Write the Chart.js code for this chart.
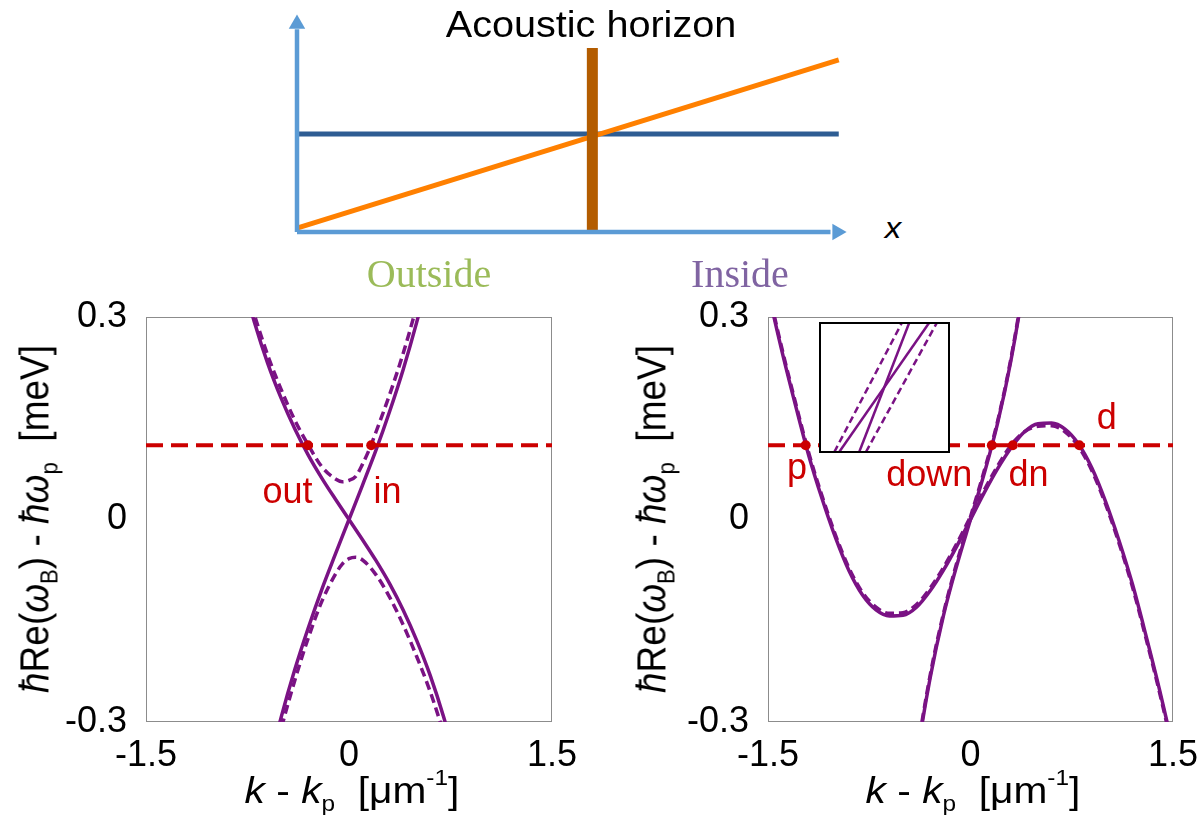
<!DOCTYPE html>
<html>
<head>
<meta charset="utf-8">
<title>Acoustic horizon</title>
<script src="https://cdn.jsdelivr.net/npm/chart.js@4.4.1/dist/chart.umd.min.js"></script>
<style>
    html, body { margin: 0; padding: 0; background: #fff; }
    #page { position: relative; width: 1201px; height: 815px; overflow: hidden; font-family: "Liberation Sans", Arial, sans-serif; color: #000; }
    canvas { position: absolute; }
    #inset { background: #fff; }
    .label { position: absolute; white-space: nowrap; line-height: 1; transform: translate(-50%, -50%) scaleX(1.1); }
    .ytitle { transform: translate(-50%, -50%) scaleX(1.1) rotate(-90deg); }
    .serif { font-family: "Liberation Serif", "Times New Roman", serif; transform: translate(-50%, -50%); }
    .it { font-style: italic; }
    sub, sup { font-size: 60%; line-height: 0; position: relative; vertical-align: baseline; }
    sub { top: 0.35em; }
    sup { top: -0.8em; }
</style>
</head>
<body>
<div id="page">
    <canvas id="scheme" width="600" height="250" style="left:280px; top:0px;"></canvas>
    <canvas id="outside" width="600" height="525" style="left:0px; top:290px;"></canvas>
    <canvas id="inside" width="601" height="525" style="left:600px; top:290px;"></canvas>
    <canvas id="inset" width="131" height="131" style="left:819px; top:322px;"></canvas>

    <div class="label" style="left:591px; top:25px; font-size:36px;">Acoustic horizon</div>
    <div class="label it" style="left:893px; top:228px; font-size:30px;">x</div>
    <div class="label serif" style="left:429px; top:274px; font-size:40px; color:#9bbb59;">Outside</div>
    <div class="label serif" style="left:740px; top:274px; font-size:40px; color:#8064a2;">Inside</div>

    <div class="label ytitle" style="left:35px; top:519px; font-size:37px;"><span class="it">ħ</span>Re(<span class="it">ω</span><sub>B</sub>) - <span class="it">ħω</span><sub>p</sub>&nbsp; [meV]</div>
    <div class="label" style="left:352px; top:790px; font-size:37px;"><span class="it">k</span> - <span class="it">k</span><sub>p</sub>&nbsp; [μm<sup>-1</sup>]</div>
    <div class="label ytitle" style="left:652px; top:519px; font-size:37px;"><span class="it">ħ</span>Re(<span class="it">ω</span><sub>B</sub>) - <span class="it">ħω</span><sub>p</sub>&nbsp; [meV]</div>
    <div class="label" style="left:973px; top:790px; font-size:37px;"><span class="it">k</span> - <span class="it">k</span><sub>p</sub>&nbsp; [μm<sup>-1</sup>]</div>
</div>

<script>
// Top schematic (arbitrary units, 0..100 on both axes)
const schemeX = [0, 98.5];
const soundLine = [45, 45];
const flowLine = [1.8, 79];
const horizonX = [53.7, 53.7];
const horizonY = [0, 84.4];
const axisShaftX = [0, 97];
const axisShaftY = [0, 93];
const arrowHeadX = [98.2, 0];
const arrowHeadY = [0, 95.4];

// Shared ticks of the two dispersion panels
const kTicks = [-1.5, 0, 1.5];
const kTickLabels = ['-1.5', '0', '1.5'];
const eTicks = [-0.3, 0, 0.3];
const eTickLabels = ['-0.3', '0', '0.3'];
const probeEnergy = 0.11;

// Outside panel
const kOutA = [-0.8, -0.7, -0.6, -0.5, -0.4, -0.3, -0.2, -0.1, 0, 0.1, 0.2, 0.3, 0.4, 0.5, 0.6, 0.7, 0.8];
const outSolidA = [0.366, 0.293, 0.231, 0.179, 0.134, 0.095, 0.061, 0.030, 0, -0.030, -0.061, -0.095, -0.134, -0.179, -0.231, -0.293, -0.366];
const kOutB = [-0.6, -0.5, -0.4, -0.3, -0.2, -0.1, 0, 0.1, 0.2, 0.3, 0.4, 0.5, 0.6];
const outSolidB = [-0.372, -0.292, -0.222, -0.160, -0.103, -0.051, 0, 0.051, 0.103, 0.160, 0.222, 0.292, 0.372];
const kOutUpper = [-0.75, -0.7, -0.6, -0.5, -0.4, -0.3, -0.2, -0.1, -0.05, 0, 0.05, 0.1, 0.15, 0.2, 0.3, 0.4, 0.5, 0.55];
const outDashUpper = [0.339, 0.304, 0.243, 0.192, 0.147, 0.110, 0.078, 0.060, 0.056, 0.058, 0.064, 0.082, 0.104, 0.130, 0.185, 0.246, 0.316, 0.355];
const kOutLower = [-0.55, -0.5, -0.4, -0.3, -0.2, -0.1, -0.05, 0, 0.05, 0.1, 0.2, 0.3, 0.4, 0.5, 0.6, 0.7, 0.75];
const outDashLower = [-0.348, -0.309, -0.238, -0.175, -0.121, -0.081, -0.066, -0.058, -0.056, -0.060, -0.082, -0.115, -0.156, -0.203, -0.255, -0.317, -0.352];
const outDotsK = [-0.303, 0.164];
const outLabels = ['out', 'in'];
const outLabelK = [-0.454, 0.284];
const outLabelE = [0.039, 0.039];

// Inside panel
const kInC = [-1.6, -1.5, -1.4, -1.3, -1.2, -1.1, -1.0, -0.9, -0.8, -0.7, -0.6, -0.5, -0.4, -0.3, -0.2, -0.1, 0,
              0.1, 0.2, 0.3, 0.4, 0.5, 0.6, 0.7, 0.8, 0.9, 1.0, 1.1, 1.2, 1.3, 1.4, 1.5, 1.6];
const inSolidC = [0.44, 0.34, 0.252, 0.172, 0.096, 0.031, -0.027, -0.076, -0.112, -0.134, -0.143, -0.142, -0.130, -0.106, -0.075, -0.039, 0,
                  0.039, 0.075, 0.106, 0.130, 0.142, 0.143, 0.134, 0.112, 0.076, 0.027, -0.031, -0.096, -0.172, -0.252, -0.34, -0.44];
const inDashC = [0.444, 0.344, 0.256, 0.176, 0.100, 0.035, -0.023, -0.072, -0.108, -0.130, -0.139, -0.138, -0.126, -0.102, -0.071, -0.035, 0.004,
                 0.043, 0.079, 0.110, 0.130, 0.138, 0.139, 0.130, 0.108, 0.072, 0.023, -0.035, -0.100, -0.176, -0.256, -0.344, -0.444];
const kInD = [-0.45, -0.4, -0.3, -0.2, -0.1, 0, 0.1, 0.2, 0.3, 0.4, 0.45];
const inSolidD = [-0.427, -0.355, -0.236, -0.142, -0.067, 0, 0.067, 0.142, 0.236, 0.355, 0.427];
const inDashD = [-0.423, -0.351, -0.232, -0.139, -0.063, 0.004, 0.071, 0.145, 0.239, 0.358, 0.430];
const inDotsK = [-1.221, 0.158, 0.314, 0.806];
const inLabels = ['p', 'down', 'dn', 'd'];
const inLabelK = [-1.285, -0.305, 0.43, 1.009];
const inLabelE = [0.075, 0.064, 0.064, 0.149];

// Inset: close-up of the crossing (relative units 0..1)
const insetY = [0, 1];
const insetSteepX = [0.304, 0.691];
const insetShallowX = [0.149, 0.845];
const insetDashLeftX = [0.111, 0.634];
const insetDashRightX = [0.356, 0.905];

const PURPLE = 'rgb(122, 18, 132)';
const RED = 'rgb(204, 0, 0)';
const FONT = '"Liberation Sans", Arial, sans-serif';

Chart.defaults.font.family = FONT;

const pts = (xs, ys) => xs.map((x, i) => ({ x, y: ys[i] }));

const framePlugin = {
    id: 'frame',
    beforeDatasetsDraw(chart) {
        const { ctx, chartArea: a } = chart;
        ctx.save();
        ctx.strokeStyle = '#8c8c8c';
        ctx.lineWidth = 1;
        ctx.strokeRect(Math.round(a.left) + 0.5, Math.round(a.top) + 0.5, Math.round(a.width) - 1, Math.round(a.height) - 1);
        ctx.restore();
    }
};

function textLabels(texts, ks, es) {
    return {
        id: 'textLabels',
        afterDatasetsDraw(chart) {
            const { ctx, scales } = chart;
            ctx.save();
            ctx.font = '36px ' + FONT;
            ctx.fillStyle = RED;
            ctx.textAlign = 'center';
            ctx.textBaseline = 'middle';
            texts.forEach((t, i) => {
                ctx.fillText(t, scales.x.getPixelForValue(ks[i]), scales.y.getPixelForValue(es[i]));
            });
            ctx.restore();
        }
    };
}

function curve(xs, ys, dashed) {
    return {
        data: pts(xs, ys),
        showLine: true,
        pointRadius: 0,
        borderColor: PURPLE,
        borderWidth: 3.5,
        borderDash: dashed ? [9, 5] : [],
        cubicInterpolationMode: 'monotone'
    };
}

function probeSets(dotsK) {
    return [
        {
            data: pts(dotsK, dotsK.map(() => probeEnergy)),
            pointRadius: 5,
            pointBackgroundColor: RED,
            pointBorderWidth: 0,
            showLine: false
        },
        {
            data: pts([-1.5, 1.5], [probeEnergy, probeEnergy]),
            showLine: true,
            pointRadius: 0,
            borderColor: RED,
            borderWidth: 4,
            borderDash: [17, 8]
        }
    ];
}

function dispersionPanel(id, yAxisWidth, rightPad, datasets, labels) {
    return new Chart(document.getElementById(id), {
        type: 'scatter',
        data: { datasets },
        options: {
            responsive: false,
            animation: false,
            events: [],
            layout: { padding: { left: 0, right: rightPad, top: 27, bottom: 0 } },
            plugins: { legend: { display: false }, tooltip: { enabled: false } },
            scales: {
                x: {
                    min: -1.5, max: 1.5,
                    grid: { display: false },
                    border: { display: false },
                    afterFit: (s) => { s.height = 93; s.paddingLeft = 0; s.paddingRight = 0; },
                    afterBuildTicks: (s) => { s.ticks = kTicks.map(v => ({ value: v })); },
                    ticks: {
                        padding: 4, color: '#000', font: { size: 36 },
                        maxRotation: 0, autoSkip: false,
                        callback: (v, i) => kTickLabels[i]
                    }
                },
                y: {
                    min: -0.3, max: 0.3,
                    grid: { display: false },
                    border: { display: false },
                    afterFit: (s) => { s.width = yAxisWidth; s.paddingTop = 0; s.paddingBottom = 0; },
                    afterBuildTicks: (s) => { s.ticks = eTicks.map(v => ({ value: v })); },
                    ticks: {
                        padding: 11, color: '#000', font: { size: 36 },
                        autoSkip: false,
                        callback: (v, i) => eTickLabels[i]
                    }
                }
            }
        },
        plugins: [framePlugin, labels]
    });
}

document.addEventListener('DOMContentLoaded', () => {
    // Schematic of the flow profile around the horizon
    new Chart(document.getElementById('scheme'), {
        type: 'scatter',
        data: {
            datasets: [
                {
                    data: pts(arrowHeadX, arrowHeadY),
                    pointStyle: 'triangle',
                    pointRotation: [90, 0],
                    pointRadius: 9.5,
                    pointBackgroundColor: '#5b9bd5',
                    pointBorderWidth: 0,
                    clip: false
                },
                { data: pts(axisShaftX, [0, 0]), showLine: true, pointRadius: 0, borderColor: '#5b9bd5', borderWidth: 4.5, clip: false },
                { data: pts([0, 0], axisShaftY), showLine: true, pointRadius: 0, borderColor: '#5b9bd5', borderWidth: 4.5, clip: false },
                { data: pts(horizonX, horizonY), showLine: true, pointRadius: 0, borderColor: '#b35c00', borderWidth: 11, clip: false },
                { data: pts(schemeX, flowLine), showLine: true, pointRadius: 0, borderColor: '#ff8000', borderWidth: 5, clip: false },
                { data: pts(schemeX, soundLine), showLine: true, pointRadius: 0, borderColor: '#2e5d93', borderWidth: 5, clip: false }
            ]
        },
        options: {
            responsive: false,
            animation: false,
            events: [],
            layout: { padding: { left: 17, right: 33, top: 14, bottom: 18 } },
            plugins: { legend: { display: false }, tooltip: { enabled: false } },
            scales: {
                x: { display: false, min: 0, max: 100 },
                y: { display: false, min: 0, max: 100 }
            }
        }
    });

    // Outside the horizon
    dispersionPanel('outside', 146, 48, [
        ...probeSets(outDotsK),
        curve(kOutA, outSolidA, false),
        curve(kOutB, outSolidB, false),
        curve(kOutUpper, outDashUpper, true),
        curve(kOutLower, outDashLower, true)
    ], textLabels(outLabels, outLabelK, outLabelE));

    // Inside the horizon
    dispersionPanel('inside', 168, 28, [
        ...probeSets(inDotsK),
        curve(kInC, inSolidC, false),
        curve(kInD, inSolidD, false),
        curve(kInC, inDashC, true),
        curve(kInD, inDashD, true)
    ], textLabels(inLabels, inLabelK, inLabelE));

    // Inset zoom on the crossing
    const insetLine = (xs, dashed) => ({
        data: pts(xs, insetY),
        showLine: true,
        pointRadius: 0,
        borderColor: PURPLE,
        borderWidth: 2.5,
        borderDash: dashed ? [7, 4] : []
    });
    new Chart(document.getElementById('inset'), {
        type: 'scatter',
        data: {
            datasets: [
                insetLine(insetSteepX, false),
                insetLine(insetShallowX, false),
                insetLine(insetDashLeftX, true),
                insetLine(insetDashRightX, true)
            ]
        },
        options: {
            responsive: false,
            animation: false,
            events: [],
            layout: { padding: 1 },
            plugins: { legend: { display: false }, tooltip: { enabled: false } },
            scales: {
                x: { display: false, min: 0, max: 1 },
                y: { display: false, min: 0, max: 1 }
            }
        },
        plugins: [{
            id: 'insetFrame',
            afterDatasetsDraw(chart) {
                const { ctx, chartArea: a } = chart;
                ctx.save();
                ctx.strokeStyle = '#000';
                ctx.lineWidth = 2;
                ctx.strokeRect(a.left, a.top, a.width, a.height);
                ctx.restore();
            }
        }]
    });
});
</script>
</body>
</html>
